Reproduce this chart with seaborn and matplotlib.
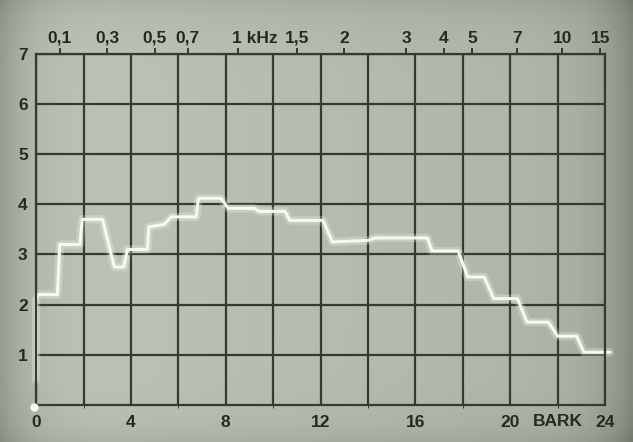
import numpy as np
import pandas as pd
import seaborn as sns
import matplotlib.pyplot as plt
import matplotlib.transforms as mtransforms

# Przebieg (Bark, poziom)
bark = [0.0, 0.0, 0.1, 0.9, 1.0, 1.85, 1.95, 2.8, 3.3, 3.7, 3.85, 4.7, 4.75,
        5.4, 5.7, 6.75, 6.85, 7.8, 8.1, 9.2, 9.4, 10.5, 10.7, 12.1, 12.5,
        14.0, 14.3, 16.5, 16.7, 17.8, 18.2, 18.9, 19.3, 20.3, 20.7, 21.6,
        22.0, 22.8, 23.1, 24.2]
level = [0.5, 2.1, 2.2, 2.2, 3.2, 3.2, 3.7, 3.7, 2.75, 2.75, 3.1, 3.1, 3.55,
         3.6, 3.75, 3.75, 4.12, 4.12, 3.92, 3.92, 3.86, 3.86, 3.68, 3.68, 3.25,
         3.28, 3.33, 3.33, 3.07, 3.07, 2.55, 2.55, 2.12, 2.12, 1.65, 1.65,
         1.37, 1.37, 1.05, 1.05]

bottom_ticks = [0, 4, 8, 12, 16, 20, 24]
bottom_labels = ["0", "4", "8", "12", "16", "20", "24"]
y_ticks = [1, 2, 3, 4, 5, 6, 7]

# Skala czestotliwosci (kHz) na gorze
top_ticks = [1.0, 3.0, 5.0, 6.4, 8.5, 11.0, 13.0, 15.6, 17.2, 18.4, 20.3, 22.2, 23.8]
top_labels = ["0,1", "0,3", "0,5", "0,7", "1 kHz", "1,5", "2", "3", "4", "5", "7", "10", "15"]

df = pd.DataFrame({"bark": bark, "level": level})

bg = "#b1b9ac"
grid_col = "#343a34"
txt_col = "#262a26"

sns.set_style("white")
plt.rcParams["font.family"] = ["Liberation Sans", "DejaVu Sans"]

fig = plt.figure(figsize=(6.33, 4.42), dpi=100, facecolor=bg)

# Tlo jak na zdjeciu ekranu: ciemniejsze brzegi
bg_ax = fig.add_axes([0, 0, 1, 1], zorder=-10)
GX, GY = np.meshgrid(np.linspace(-1, 1, 200), np.linspace(-1, 1, 140))
factor = 1.0 - 0.05 * GX - 0.22 * GX ** 10 - 0.08 * GY ** 10
base = np.array([0xb4, 0xbd, 0xae]) / 255
rgb = np.clip(factor[..., None] * base, 0, 1)
bg_ax.imshow(rgb, aspect="auto", extent=[0, 1, 0, 1], interpolation="bilinear")
bg_ax.set_axis_off()

ax = fig.add_axes([0.057, 0.084, 0.899, 0.794])
ax.patch.set_alpha(0)

# Swiecacy slad
sns.lineplot(data=df, x="bark", y="level", sort=False, estimator=None,
             color="white", linewidth=6, alpha=0.25, ax=ax, clip_on=False)
sns.lineplot(data=df, x="bark", y="level", sort=False, estimator=None,
             color="#f6faf0", linewidth=2.2, ax=ax, clip_on=False)
ax.plot([-0.1], [-0.05], "o", color="#fbfdf8", markersize=5, clip_on=False, zorder=5)

ax.set_xlim(0, 24)
ax.set_ylim(0, 7)
ax.set_xticks(np.arange(0, 25, 2), minor=True)
ax.set_xticks(bottom_ticks, bottom_labels)
ax.set_yticks(y_ticks)
ax.grid(True, which="both", color=grid_col, linewidth=1.6)
ax.tick_params(axis="both", length=0, labelsize=12.5, colors=txt_col, pad=7)
ax.tick_params(axis="y", pad=6)
for lab in ax.get_xticklabels() + ax.get_yticklabels():
    lab.set_fontweight("bold")
for s in ax.spines.values():
    s.set_color(grid_col)
    s.set_linewidth(1.6)
ax.set_xlabel("")
ax.set_ylabel("")
ax.text(22, -0.18, "BARK", ha="center", va="top", fontsize=12.5,
        fontweight="bold", color=txt_col)

# Gorna os czestotliwosci
ax2 = ax.twiny()
ax2.set_xlim(0, 24)
ax2.set_xticks(top_ticks, top_labels)
ax2.tick_params(axis="x", direction="out", length=4, width=1.4, color=grid_col,
                labelsize=12.5, labelcolor=txt_col, pad=2)
for s in ax2.spines.values():
    s.set_visible(False)
for lab in ax2.get_xticklabels():
    lab.set_fontweight("bold")
    if "kHz" in lab.get_text():
        lab.set_ha("left")
        lab.set_transform(lab.get_transform() + mtransforms.ScaledTranslation(-4 / 72, 0, fig.dpi_scale_trans))

plt.savefig("out.png", dpi=100, facecolor=bg)
